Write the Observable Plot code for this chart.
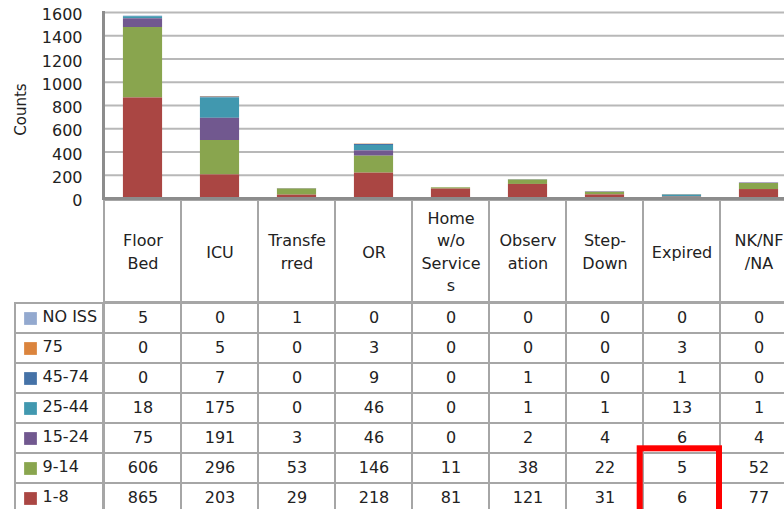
<!DOCTYPE html>
<html>
<head>
<meta charset="utf-8">
<script src="https://cdn.jsdelivr.net/npm/d3@7"></script>
<script src="https://cdn.jsdelivr.net/npm/@observablehq/plot@0.6"></script>
<style>
  html, body { margin: 0; padding: 0; background: #fff; overflow: hidden; }
  #wrap { width: 800px; position: relative; }
  #wrap svg { display: block; max-width: none; }
  #wrap svg, #wrap svg text { font-family: "DejaVu Sans", sans-serif !important; }
  #chart { position: relative; z-index: 2; }
  #chart svg { overflow: visible; background: transparent !important; }
  .hdr svg { background: transparent !important; }
  .row { display: flex; flex-direction: row; width: 800px; }
  .row svg { flex: none; }
</style>
</head>
<body>
<div id="wrap"></div>
<script>
// ---------- data ----------
const categories = ["Floor Bed", "ICU", "Transferred", "OR", "Home w/o Services", "Observation", "Step-Down", "Expired", "NK/NF/NA"];
const headerLabels = ["Floor\nBed", "ICU", "Transfe\nrred", "OR", "Home\nw/o\nService\ns", "Observ\nation", "Step-\nDown", "Expired", "NK/NF\n/NA"];
// table order (top to bottom)
const seriesNames = ["NO ISS", "75", "45-74", "25-44", "15-24", "9-14", "1-8"];
const seriesColors = ["#93A9CF", "#DB843D", "#4572A7", "#4198AF", "#71588F", "#89A54E", "#AA4643"];
const noIss  = [5, 0, 1, 0, 0, 0, 0, 0, 0];
const iss75  = [0, 5, 0, 3, 0, 0, 0, 3, 0];
const iss45_74 = [0, 7, 0, 9, 0, 1, 0, 1, 0];
const iss25_44 = [18, 175, 0, 46, 0, 1, 1, 13, 1];
const iss15_24 = [75, 191, 3, 46, 0, 2, 4, 6, 4];
const iss9_14  = [606, 296, 53, 146, 11, 38, 22, 5, 52];
const iss1_8   = [865, 203, 29, 218, 81, 121, 31, 6, 77];
const yTicks = [0, 200, 400, 600, 800, 1000, 1200, 1400, 1600];
const yLabel = "Counts";
const highlight = {category: "Expired", series: ["9-14", "1-8"]};

const seriesValues = [noIss, iss75, iss45_74, iss25_44, iss15_24, iss9_14, iss1_8];
const data = seriesNames.flatMap((s, i) => categories.map((c, j) => ({category: c, series: s, value: seriesValues[i][j]})));
const stackOrder = seriesNames.slice().reverse(); // bottom to top

// ---------- layout ----------
const W = 800, ML = 103, MR = 2;
const bw = (W - ML - MR) / categories.length;
const font = "DejaVu Sans, sans-serif";
const txt = "#222";
const border = "#a6a6a6";
const baseStyle = {fontFamily: font, fontSize: "16px", color: txt, background: "#fff", maxWidth: "none"};
const colorScale = {domain: seriesNames, range: seriesColors};

const wrap = document.getElementById("wrap");

// chart
const chartDiv = document.createElement("div");
chartDiv.id = "chart";
wrap.appendChild(chartDiv);
const chart = Plot.plot({
  width: W, height: 200,
  marginLeft: ML, marginRight: MR, marginTop: 12, marginBottom: 2,
  style: {...baseStyle, background: "transparent", overflow: "visible"},
  x: {type: "band", domain: categories, padding: 0, axis: null},
  y: {domain: [0, 1600]},
  color: colorScale,
  marks: [
    Plot.ruleY(yTicks, {stroke: "#b8b8b8", strokeWidth: 2}),
    Plot.axisY(yTicks, {tickSize: 0, tickPadding: 21, dy: 2.5, label: null, tickFormat: d => String(d), fontSize: 16, fill: txt}),
    Plot.barY(data, Plot.stackY({
      x: "category", y: "value", fill: "series", order: stackOrder,
      insetLeft: bw * 0.245, insetRight: bw * 0.245
    })),
    Plot.ruleY([0], {stroke: "#8c8c8c", strokeWidth: 3}),
    Plot.frame({anchor: "left", stroke: "#8c8c8c", strokeWidth: 3}),
    Plot.text([yLabel], {frameAnchor: "left", textAnchor: "middle", dx: -82, dy: 4, rotate: -90, fontSize: 15, fill: txt})
  ]
});
chartDiv.appendChild(chart);

// header row of the data table
const hdrDiv = document.createElement("div");
hdrDiv.className = "hdr";
wrap.appendChild(hdrDiv);
const header = Plot.plot({
  width: W, height: 102,
  marginLeft: ML, marginRight: MR, marginTop: 0, marginBottom: 0,
  style: {...baseStyle, background: "transparent"},
  x: {type: "band", domain: categories, padding: 0, axis: null},
  marks: [
    Plot.cell(categories, {x: d => d, fill: "#fff", stroke: border, strokeWidth: 2}),
    Plot.text(categories, {x: d => d, text: (d, i) => headerLabels[i], frameAnchor: "middle", lineHeight: 1.4, fontSize: 16, dy: -1, fill: txt})
  ]
});
hdrDiv.appendChild(header);

// body rows
const H = 211;
const rowH = H / seriesNames.length;
const row = document.createElement("div");
row.className = "row";
wrap.appendChild(row);

const legend = Plot.plot({
  width: ML, height: H,
  marginLeft: 15, marginRight: 0, marginTop: 0, marginBottom: 0,
  style: baseStyle,
  x: {type: "band", domain: ["legend"], padding: 0, axis: null},
  y: {type: "band", domain: seriesNames, padding: 0, axis: null},
  color: colorScale,
  marks: [
    Plot.cell(seriesNames, {x: () => "legend", y: d => d, fill: "#fff", stroke: border, strokeWidth: 2}),
    Plot.dot(seriesNames, {y: d => d, frameAnchor: "left", dx: 15, symbol: "square", r: 7.2, fill: d => d, stroke: null}),
    Plot.text(seriesNames, {y: d => d, frameAnchor: "left", dx: 27, dy: -1.5, textAnchor: "start", text: d => d, fontSize: 16, fill: txt})
  ]
});
row.appendChild(legend);

const table = Plot.plot({
  width: W - ML, height: H,
  marginLeft: 0, marginRight: MR, marginTop: 0, marginBottom: 0,
  style: baseStyle,
  x: {type: "band", domain: categories, padding: 0, axis: null},
  y: {type: "band", domain: seriesNames, padding: 0, axis: null},
  marks: [
    Plot.cell(data, {x: "category", y: "series", fill: "#fff", stroke: border, strokeWidth: 2}),
    Plot.text(data, {x: "category", y: "series", text: d => String(d.value), fontSize: 16, dy: -0.5, fill: txt}),
    Plot.cell([highlight], {
      x: d => d.category, y: d => d.series[0],
      fill: "none", stroke: "#ff0000", strokeWidth: 6,
      insetTop: -4.7, insetBottom: -(rowH * (highlight.series.length - 1) + 10),
      insetLeft: -3.3, insetRight: 1
    })
  ]
});
row.appendChild(table);
</script>
</body>
</html>
